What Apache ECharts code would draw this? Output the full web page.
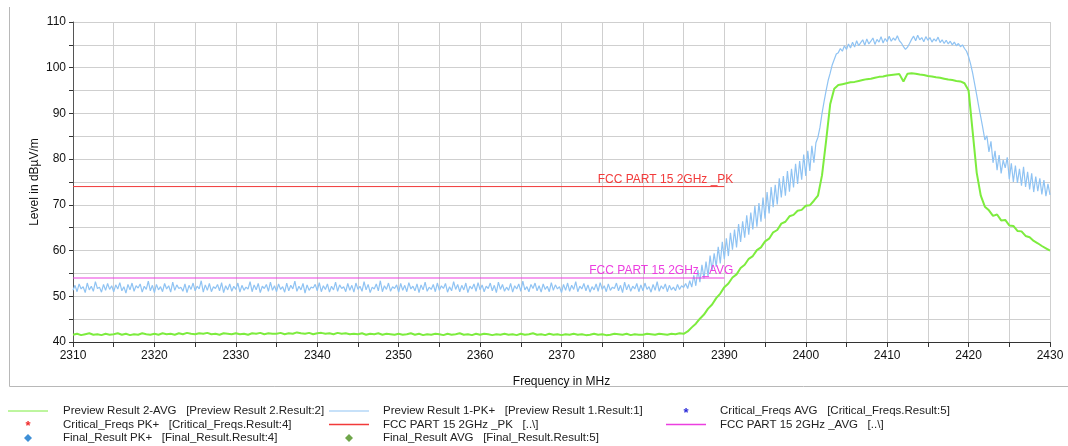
<!DOCTYPE html>
<html><head><meta charset="utf-8">
<script src="https://cdn.jsdelivr.net/npm/echarts@6/dist/echarts.min.js"></script>
<style>html,body{margin:0;padding:0;background:#fff}#c{width:1068px;height:446px}</style>
</head><body><div id="c"></div>
<script>
// Sweep grids of the two traces (MHz)
const freqStart = 2310;
const pkStep = 0.25;
const avgStep = 0.5;

// Preview Result 1-PK+ : 2310 .. 2385 (301 points, 0.25 MHz)
const pkFlat = [
51.3,52.4,51.0,52.7,51.6,52.1,50.8,52.9,51.4,52.2,51.1,53.2,51.7,52.0,50.9,52.6,51.3,52.8,51.5,52.3,
51.0,52.5,51.6,53.0,51.2,52.1,50.7,52.6,51.4,52.9,51.1,52.3,51.8,52.7,50.9,52.2,51.5,53.3,51.2,52.4,
50.8,52.6,51.4,52.1,51.0,52.8,51.6,52.3,50.9,53.1,51.3,52.5,51.7,52.0,51.1,52.7,50.8,52.4,51.5,52.9,
51.2,52.2,51.6,53.4,50.9,52.5,51.3,52.8,51.0,52.1,51.7,52.6,51.2,53.0,50.8,52.3,51.4,52.7,51.1,52.2,
51.5,52.9,50.9,52.4,51.3,52.0,51.6,53.2,51.0,52.5,51.4,52.8,50.8,52.2,51.7,52.6,51.1,53.1,51.3,52.3,
51.0,52.7,51.5,52.1,50.9,52.9,51.2,52.4,51.6,53.3,51.1,52.2,51.4,52.8,50.7,52.5,51.3,52.0,51.8,52.6,
51.2,53.0,51.0,52.3,51.5,52.7,50.9,52.2,51.4,53.1,51.1,52.5,51.7,52.1,51.0,52.8,51.3,52.4,50.9,52.9,
51.5,52.2,51.1,53.2,51.4,52.6,50.8,52.0,51.6,52.7,51.2,53.4,51.0,52.3,51.5,52.9,51.1,52.1,51.7,52.5,
50.9,52.8,51.3,52.4,51.0,53.0,51.6,52.2,51.2,52.7,50.8,52.5,51.4,53.1,51.1,52.0,51.5,52.6,51.0,52.9,
51.3,52.3,51.7,52.8,50.9,52.1,51.2,53.2,51.5,52.6,51.0,52.4,51.4,52.9,50.8,52.2,51.6,52.7,51.1,53.0,
51.4,52.5,51.0,52.2,51.7,52.9,51.2,52.4,50.8,53.1,51.5,52.6,51.1,52.0,51.3,52.8,50.9,52.3,51.6,52.7,
51.1,53.3,51.4,52.1,51.0,52.6,51.7,52.9,51.2,52.3,50.9,52.7,51.5,52.2,51.0,53.0,51.3,52.5,51.6,52.1,
50.8,52.6,51.3,52.9,51.1,52.4,51.5,53.2,51.0,52.2,51.6,52.8,51.2,52.5,50.9,52.1,51.4,52.7,51.1,53.0,
51.5,52.3,51.0,52.7,51.3,52.0,51.7,52.9,51.2,52.4,50.8,53.1,51.4,52.6,51.1,52.2,51.6,52.8,51.0,52.5,
51.2,52.9,51.5,52.1,50.9,52.6,51.3,53.2,51.1,52.3,51.6,52.7,51.0,52.4,51.4,52.0,51.2,52.6,51.5,52.3,
51.9];
// Preview Result 1-PK+ : 2385.25 .. 2430 (180 points, 0.25 MHz)
const pkBand = [
52.8,51.7,53.4,52.0,54.6,52.3,55.8,53.1,56.9,53.9,57.6,54.4,58.9,55.6,59.4,56.5,60.8,57.2,61.9,58.1,
62.7,58.8,63.9,60.2,64.6,60.7,65.8,61.9,66.4,62.8,67.7,63.5,68.3,64.6,69.8,65.2,70.4,66.3,71.6,67.0,
72.8,68.1,73.9,69.5,74.4,70.1,75.8,71.6,76.3,72.0,77.4,72.9,77.9,73.8,79.0,74.6,79.6,75.5,81.0,76.3,
81.8,77.4,82.9,79.2,83.6,84.8,87.0,90.0,92.6,95.0,97.2,98.8,100.6,101.8,103.0,103.3,104.2,103.6,104.8,104.0,
105.2,104.3,105.6,104.5,105.9,104.8,105.5,106.1,104.9,106.3,105.2,105.8,106.5,105.1,106.2,105.6,106.8,105.4,106.4,105.7,
106.9,105.8,106.5,106.0,107.0,105.9,105.4,104.6,104.0,104.5,105.3,106.2,106.9,105.9,107.1,106.1,106.6,105.7,106.8,106.0,
106.6,105.6,106.3,105.8,106.7,105.5,106.1,105.3,106.0,105.2,105.8,105.0,105.6,104.8,105.3,104.6,105.0,104.2,103.6,102.4,
100.8,98.8,96.4,94.0,91.5,89.2,86.8,84.2,85.1,81.6,83.9,79.2,81.8,77.6,80.9,76.9,79.8,78.1,80.4,75.6,
79.1,75.0,78.6,74.8,77.9,74.2,78.3,73.9,77.2,73.4,76.9,72.8,76.2,73.0,75.8,72.3,75.4,71.9,74.6,72.2];

// Preview Result 2-AVG : 2310 .. 2385 (151 points, 0.5 MHz)
const avgFlat = [
41.6,41.8,41.5,41.7,41.9,41.6,41.7,41.5,41.8,41.6,
41.7,41.9,41.6,41.8,41.5,41.7,41.6,41.9,41.7,41.6,
41.8,41.6,41.9,41.7,41.8,41.6,41.9,41.7,42.0,41.8,
41.7,41.9,41.8,42.0,41.7,41.8,41.6,41.9,41.8,41.7,
41.9,41.7,41.8,41.6,41.9,41.8,42.0,41.7,41.9,41.8,
41.8,42.0,41.7,41.9,41.8,42.1,41.9,41.8,42.0,41.7,
41.9,42.0,41.8,41.9,41.7,42.0,41.8,41.9,41.7,41.8,
41.7,41.9,41.6,41.8,41.7,41.9,41.6,41.8,41.7,41.6,
41.8,41.6,41.7,41.9,41.6,41.8,41.5,41.7,41.6,41.8,
41.7,41.5,41.8,41.6,41.7,41.9,41.6,41.7,41.5,41.8,
41.6,41.8,41.7,41.5,41.7,41.6,41.8,41.6,41.7,41.5,
41.8,41.6,41.7,41.9,41.6,41.7,41.5,41.8,41.6,41.7,
41.5,41.7,41.6,41.8,41.6,41.7,41.5,41.6,41.8,41.6,
41.7,41.5,41.6,41.8,41.7,41.6,41.8,41.5,41.7,41.6,
41.6,41.8,41.7,41.6,41.8,41.7,41.6,41.8,41.7,41.9,
41.8];
// Preview Result 2-AVG : 2385.5 .. 2430 (90 points, 0.5 MHz)
const avgBand = [
42.3,43.2,44.0,45.1,46.0,47.3,48.2,49.6,50.6,52.0,
52.8,54.1,54.8,56.2,56.9,58.2,58.8,60.1,60.7,62.0,
62.6,64.0,64.5,65.9,66.3,67.5,67.8,68.7,68.9,69.8,
69.9,70.9,72.0,76.5,84.0,92.0,95.4,96.2,96.4,96.6,
96.8,96.9,97.1,97.3,97.5,97.6,97.8,98.0,98.1,98.3,
98.4,98.5,98.6,97.0,98.7,98.8,98.7,98.5,98.4,98.2,
98.1,97.9,97.8,97.6,97.4,97.3,97.1,97.0,96.6,95.0,
86.0,77.0,72.0,69.6,68.8,67.6,67.9,66.6,66.7,65.5,
65.4,64.3,64.2,63.2,62.9,62.1,61.6,61.0,60.5,60.0];

// Limit lines
const limitPK = 74;
const limitAVG = 54;
const limitFreqs = [2310, 2390];
const limitPKName = 'FCC PART 15 2GHz _PK';
const limitAVGName = 'FCC PART 15 2GHz _AVG';

// Axes
const xRange = [2310, 2430];
const yRange = [40, 110];
const xTitle = 'Frequency in MHz';
const yTitle = 'Level in dBµV/m';

// Legend entries (rows x columns)
const legendTexts = [
  ['Preview Result 2-AVG   [Preview Result 2.Result:2]', 'Preview Result 1-PK+   [Preview Result 1.Result:1]', 'Critical_Freqs AVG   [Critical_Freqs.Result:5]'],
  ['Critical_Freqs PK+   [Critical_Freqs.Result:4]', 'FCC PART 15 2GHz _PK   [..\\]', 'FCC PART 15 2GHz _AVG   [..\\]'],
  ['Final_Result PK+   [Final_Result.Result:4]', 'Final_Result AVG   [Final_Result.Result:5]', '']
];

const C_PK = '#8fc3f3', C_AVG = '#7dec3e', C_LPK = '#f23a3a', C_LAVG = '#ec3ee0';

function toPairs(flat, band, step) {
  const all = flat.concat(band);
  return all.map((v, i) => [freqStart + i * step, v]);
}
const pkData = toPairs(pkFlat, pkBand, pkStep);
const avgData = toPairs(avgFlat, avgBand, avgStep);

const chart = echarts.init(document.getElementById('c'), null, {renderer: 'canvas'});
const FONT = '"Liberation Sans", Arial, sans-serif';

const option = {
  animation: false,
  backgroundColor: '#fff',
  grid: {left: 73, top: 22, right: 18, bottom: 104, containLabel: false},
  xAxis: {
    type: 'value', min: xRange[0], max: xRange[1], interval: 5,
    name: xTitle, nameLocation: 'middle', nameGap: 34,
    nameTextStyle: {fontFamily: FONT, fontSize: 12, color: '#111'},
    axisLine: {lineStyle: {color: '#333', width: 1}},
    axisTick: {show: true, length: 5, lineStyle: {color: '#333'}},
    axisLabel: {fontFamily: FONT, fontSize: 12, color: '#111', margin: 8,
      formatter: v => (v % 10 === 0 ? String(v) : '')},
    splitLine: {show: true, lineStyle: {color: '#cfcfcf', width: 1}}
  },
  yAxis: {
    type: 'value', min: yRange[0], max: yRange[1], interval: 5,
    axisLine: {show: true, lineStyle: {color: '#555', width: 1}},
    axisTick: {show: true, length: 4, lineStyle: {color: '#333'}},
    axisLabel: {fontFamily: FONT, fontSize: 12, color: '#111', margin: 7,
      formatter: v => (v % 10 === 0 ? String(v) : '')},
    splitLine: {show: true, lineStyle: {color: '#cfcfcf', width: 1}}
  },
  series: [
    {name: 'Preview Result 2-AVG', type: 'line', data: avgData, showSymbol: false,
      lineStyle: {color: C_AVG, width: 2}, itemStyle: {color: C_AVG}, z: 3},
    {name: 'Preview Result 1-PK+', type: 'line', data: pkData, showSymbol: false,
      lineStyle: {color: C_PK, width: 1.2}, itemStyle: {color: C_PK}, z: 2},
    {name: limitPKName, type: 'line', showSymbol: false,
      data: limitFreqs.map(f => [f, limitPK]),
      lineStyle: {color: C_LPK, width: 1}, z: 4},
    {name: limitAVGName, type: 'line', showSymbol: false,
      data: limitFreqs.map(f => [f, limitAVG]),
      lineStyle: {color: C_LAVG, width: 1.2}, z: 4}
  ]
};
chart.setOption(option);

// Limit labels anchored through the axes
const pPK = chart.convertToPixel({gridIndex: 0}, [limitFreqs[1], limitPK]);
const pAVG = chart.convertToPixel({gridIndex: 0}, [limitFreqs[1], limitAVG]);
const yMid = chart.convertToPixel({yAxisIndex: 0}, (yRange[0] + yRange[1]) / 2);

const graphics = [
  {type: 'text', x: 35, y: yMid, rotation: Math.PI / 2,
    style: {text: yTitle, fill: '#111', font: '12px ' + FONT, textAlign: 'center', textVerticalAlign: 'middle'}},
  {type: 'text', x: pPK[0] + 9, y: pPK[1] - 1, style: {text: limitPKName, fill: C_LPK,
    font: '12px ' + FONT, textAlign: 'right', textVerticalAlign: 'bottom'}, z: 10},
  {type: 'text', x: pAVG[0] + 9, y: pAVG[1] - 1, style: {text: limitAVGName, fill: C_LAVG,
    font: '12px ' + FONT, textAlign: 'right', textVerticalAlign: 'bottom'}, z: 10},
  // outer frame
  {type: 'line', shape: {x1: 9.5, y1: 7, x2: 9.5, y2: 386.5}, style: {stroke: '#b8b8b8', lineWidth: 1}},
  {type: 'line', shape: {x1: 9.5, y1: 386.5, x2: 1068, y2: 386.5}, style: {stroke: '#b8b8b8', lineWidth: 1}}
];

// Legend (drawn as text + symbols)
const colX = [63, 383, 720];
const symX = [28, 349, 686];
const rowY = [411, 424.5, 438];
legendTexts.forEach((row, r) => row.forEach((t, c) => {
  if (!t) return;
  graphics.push({type: 'text', x: colX[c], y: rowY[r], style: {text: t, fill: '#222',
    font: '11.5px ' + FONT, textVerticalAlign: 'middle'}});
}));
function lineSym(c, r, color, w) {
  graphics.push({type: 'line', shape: {x1: symX[c] - 20, y1: rowY[r], x2: symX[c] + 20, y2: rowY[r]},
    style: {stroke: color, lineWidth: w}});
}
function starSym(c, r, color) {
  graphics.push({type: 'text', x: symX[c], y: rowY[r] + 2, style: {text: '*', fill: color,
    font: 'bold 13px ' + FONT, textAlign: 'center', textVerticalAlign: 'middle'}});
}
function diamondSym(c, r, color) {
  const x = symX[c], y = rowY[r];
  graphics.push({type: 'polygon', shape: {points: [[x, y - 4], [x + 4, y], [x, y + 4], [x - 4, y]]},
    style: {fill: color}});
}
lineSym(0, 0, C_AVG, 1);
lineSym(1, 0, C_PK, 1);
starSym(2, 0, '#2b2bd8');
starSym(0, 1, '#f02c2c');
lineSym(1, 1, C_LPK, 1.5);
lineSym(2, 1, C_LAVG, 1.5);
diamondSym(0, 2, '#3f8fd6');
diamondSym(1, 2, '#6fa64a');

chart.setOption({graphic: graphics});
</script>
</body></html>
